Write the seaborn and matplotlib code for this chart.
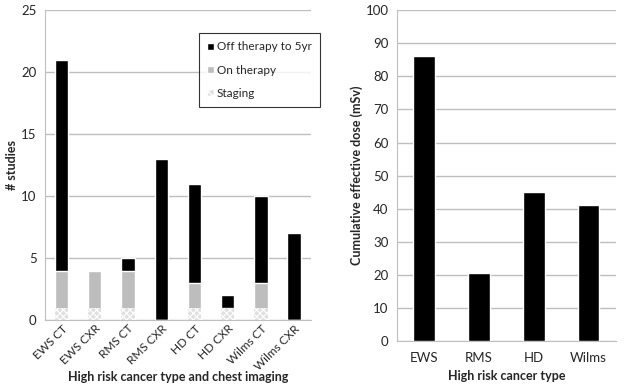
import numpy as np
import pandas as pd
import matplotlib
matplotlib.use("Agg")
import matplotlib.pyplot as plt
import matplotlib.transforms as mtrans
import seaborn as sns
from matplotlib.patches import Patch

sns.set_style("white")
plt.rcParams['font.family'] = ['Lato', 'DejaVu Sans']
plt.rcParams['hatch.color'] = '#8c8c8c'
plt.rcParams['hatch.linewidth'] = 0.8

# left panel data
groups = ["EWS CT", "EWS CXR", "RMS CT", "RMS CXR", "HD CT", "HD CXR", "Wilms CT", "Wilms CXR"]
staging = [1, 1, 1, 0, 1, 1, 1, 0]
on_therapy = [3, 3, 3, 0, 2, 0, 2, 0]
off_therapy = [17, 0, 1, 13, 8, 1, 7, 7]

# right panel data
cancer = ["EWS", "RMS", "HD", "Wilms"]
dose = [86, 20.5, 45, 41]

df = pd.DataFrame({"group": groups, "staging": staging, "on": on_therapy, "off": off_therapy})
df["upto_on"] = df["staging"] + df["on"]
df["total"] = df["upto_on"] + df["off"]

fig = plt.figure(figsize=(6.24, 3.89), dpi=100)
ax1 = fig.add_axes([0.072, 0.177, 0.426, 0.797])
ax2 = fig.add_axes([0.636, 0.123, 0.351, 0.851])

grid_c = "#bfbfbf"
fs = 9.5

# stacked bars drawn as overlapping cumulative totals
sns.barplot(data=df, x="group", y="total", color="black", width=0.4, saturation=1, ax=ax1, zorder=3)
sns.barplot(data=df, x="group", y="upto_on", color="#bdbdbd", width=0.4, saturation=1, ax=ax1, zorder=4)
sns.barplot(data=df, x="group", y="staging", color="#e0e0e0", width=0.4, saturation=1,
            hatch="xxxxx", linewidth=0, ax=ax1, zorder=5)

ax1.set_ylim(0, 25)
ax1.set_xlim(-0.5, len(groups) - 0.5)
ax1.set_yticks(range(0, 26, 5))
ax1.yaxis.grid(True, color=grid_c, linewidth=1)
ax1.set_axisbelow(True)
ax1.set_xticks(range(len(groups)))
ax1.set_xticklabels(groups, rotation=45, ha="right", rotation_mode="anchor", fontsize=8.5)
shift = mtrans.ScaledTranslation(3 / 72, 0, fig.dpi_scale_trans)
for lab in ax1.get_xticklabels():
    lab.set_transform(lab.get_transform() + shift)
ax1.tick_params(axis="x", which="major", length=0, pad=2)
ax1.set_xticks(np.arange(-0.5, len(groups), 1), minor=True)
ax1.tick_params(axis="x", which="minor", length=4, color=grid_c, direction="out")
ax1.tick_params(axis="y", labelsize=fs, length=0, pad=6)
ax1.set_xlabel("High risk cancer type and chest imaging", fontsize=9, fontweight="bold")
ax1.xaxis.set_label_coords(0.5, -0.163)
ax1.set_ylabel("# studies", fontsize=9, fontweight="bold")
ax1.yaxis.set_label_coords(-0.10, 0.5)
for s in ["top", "right"]:
    ax1.spines[s].set_visible(False)
ax1.spines["left"].set_color(grid_c)
ax1.spines["bottom"].set_color(grid_c)

handles = [Patch(facecolor="black", label="Off therapy to 5yr"),
           Patch(facecolor="#bdbdbd", label="On therapy"),
           Patch(facecolor="#e0e0e0", hatch="xxxx", label="Staging")]
leg = ax1.legend(handles=handles, loc="upper right", bbox_to_anchor=(1.035, 0.926), fontsize=8.5,
                 frameon=True, fancybox=False, edgecolor="black", handlelength=0.55, handleheight=0.55,
                 labelspacing=1.05, borderpad=0.7, handletextpad=0.25, borderaxespad=0)
leg.get_frame().set_linewidth(0.8)

# right panel
sns.barplot(x=cancer, y=dose, color="black", width=0.4, saturation=1, ax=ax2, zorder=3)
ax2.set_ylim(0, 100)
ax2.set_xlim(-0.5, len(cancer) - 0.5)
ax2.set_yticks(range(0, 101, 10))
ax2.yaxis.grid(True, color=grid_c, linewidth=1)
ax2.set_axisbelow(True)
ax2.tick_params(axis="x", which="major", length=0, labelsize=fs, pad=8)
ax2.set_xticks(np.arange(-0.5, len(cancer), 1), minor=True)
ax2.tick_params(axis="x", which="minor", length=4, color=grid_c, direction="out")
ax2.tick_params(axis="y", labelsize=fs, length=0, pad=6)
ax2.set_xlabel("High risk cancer type", fontsize=9, fontweight="bold", labelpad=4)
ax2.set_ylabel("Cumulative effective dose (mSv)", fontsize=9, fontweight="bold")
ax2.yaxis.set_label_coords(-0.155, 0.5)
for s in ["top", "right"]:
    ax2.spines[s].set_visible(False)
ax2.spines["left"].set_color(grid_c)
ax2.spines["bottom"].set_color(grid_c)

fig.savefig("out.png", dpi=100)
